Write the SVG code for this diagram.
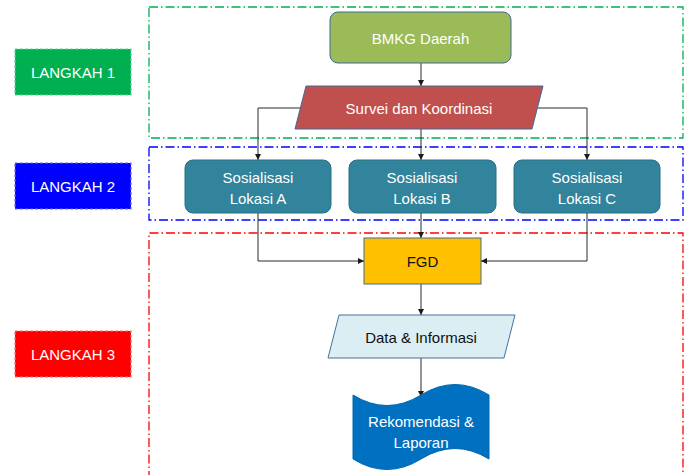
<svg xmlns="http://www.w3.org/2000/svg" width="686" height="475" viewBox="0 0 686 475">
  <defs>
    <marker id="arrow" viewBox="0 0 8 8" refX="8" refY="4" markerWidth="6" markerHeight="6" markerUnits="userSpaceOnUse" orient="auto">
      <path d="M0,0 L8,4 L0,8 Z" fill="#1a1a1a"/>
    </marker>
  </defs>
  <style>
    text { font-family: "Liberation Sans", Arial, sans-serif; font-size: 15px; text-anchor: middle; dominant-baseline: central; }
    .light { fill: #ffffff; }
    .dark { fill: #111111; }
    .frame { fill: none; stroke-width: 1.3; stroke-dasharray: 9 3 1.5 3; }
    .step { stroke-width: 1.2; stroke-dasharray: 3 2; }
    .conn { fill: none; stroke: #2b2b2b; stroke-width: 1; }
    .soc { fill: #31849B; stroke: #2B6F84; stroke-width: 1; }
  </style>

  <rect width="686" height="475" fill="#ffffff"/>

  <!-- stage frames -->
  <g id="frames">
    <rect class="frame" x="149" y="7" width="534" height="131" stroke="#00B050"/>
    <rect class="frame" x="149" y="147" width="534" height="73" stroke="#0000FF"/>
    <path class="frame" d="M149,480 L149,233 L683,233 L683,480" stroke="#FF0000"/>
  </g>

  <!-- stage labels -->
  <g id="langkah1">
    <rect class="step" x="15" y="49" width="116" height="46" fill="#00B050" stroke="#66D098"/>
    <text class="light" x="73" y="72">LANGKAH 1</text>
  </g>
  <g id="langkah2">
    <rect class="step" x="15" y="163" width="116" height="46" fill="#0000FF" stroke="#6A6AFF"/>
    <text class="light" x="73" y="186">LANGKAH 2</text>
  </g>
  <g id="langkah3">
    <rect class="step" x="15" y="331" width="116" height="46" fill="#FF0000" stroke="#FF7070"/>
    <text class="light" x="73" y="354">LANGKAH 3</text>
  </g>

  <!-- connectors -->
  <g id="connectors">
    <line class="conn" x1="421" y1="63" x2="421" y2="86" marker-end="url(#arrow)"/>
    <polyline class="conn" points="300,108 258,108 258,160" marker-end="url(#arrow)"/>
    <line class="conn" x1="421" y1="129" x2="421" y2="160" marker-end="url(#arrow)"/>
    <polyline class="conn" points="538,108 587,108 587,160" marker-end="url(#arrow)"/>
    <polyline class="conn" points="258,213 258,261 364,261" marker-end="url(#arrow)"/>
    <line class="conn" x1="421" y1="213" x2="421" y2="238" marker-end="url(#arrow)"/>
    <polyline class="conn" points="587,213 587,261 481,261" marker-end="url(#arrow)"/>
    <line class="conn" x1="421" y1="284" x2="421" y2="315" marker-end="url(#arrow)"/>
    <line class="conn" x1="421" y1="358" x2="421" y2="397" marker-end="url(#arrow)"/>
  </g>

  <!-- nodes -->
  <g id="bmkg">
    <rect x="330" y="12" width="181" height="51" rx="8" fill="#9BBB59" stroke="#3F6A96" stroke-width="1"/>
    <text class="light" x="420.5" y="38">BMKG Daerah</text>
  </g>
  <g id="survei">
    <polygon points="306,86 543,86 532,129 295,129" fill="#C0504D" stroke="#3F6A96" stroke-width="1"/>
    <text class="light" x="419" y="108">Survei dan Koordinasi</text>
  </g>
  <g id="lokasi-a">
    <rect class="soc" x="185" y="160" width="146" height="53" rx="8"/>
    <text class="light" x="258" y="177">Sosialisasi</text>
    <text class="light" x="258" y="198">Lokasi A</text>
  </g>
  <g id="lokasi-b">
    <rect class="soc" x="349" y="160" width="147" height="53" rx="8"/>
    <text class="light" x="422" y="177">Sosialisasi</text>
    <text class="light" x="422" y="198">Lokasi B</text>
  </g>
  <g id="lokasi-c">
    <rect class="soc" x="514" y="160" width="146" height="53" rx="8"/>
    <text class="light" x="587" y="177">Sosialisasi</text>
    <text class="light" x="587" y="198">Lokasi C</text>
  </g>
  <g id="fgd">
    <rect x="364" y="238" width="117" height="46" fill="#FFC000" stroke="#3F6A96" stroke-width="1"/>
    <text class="dark" x="422.5" y="261">FGD</text>
  </g>
  <g id="data">
    <polygon points="339,315 515,315 504,358 328,358" fill="#DBEEF4" stroke="#4A6F9A" stroke-width="1"/>
    <text class="dark" x="421" y="337">Data &amp; Informasi</text>
  </g>
  <g id="laporan">
    <path d="M353,395 Q387,416 421,395 Q455,374 489,395 L489,459 Q455,438 421,459 Q387,480 353,459 Z" fill="#0070C0" stroke="#0068B0" stroke-width="1"/>
    <text class="light" x="421" y="421">Rekomendasi &amp;</text>
    <text class="light" x="421" y="442">Laporan</text>
  </g>
</svg>
